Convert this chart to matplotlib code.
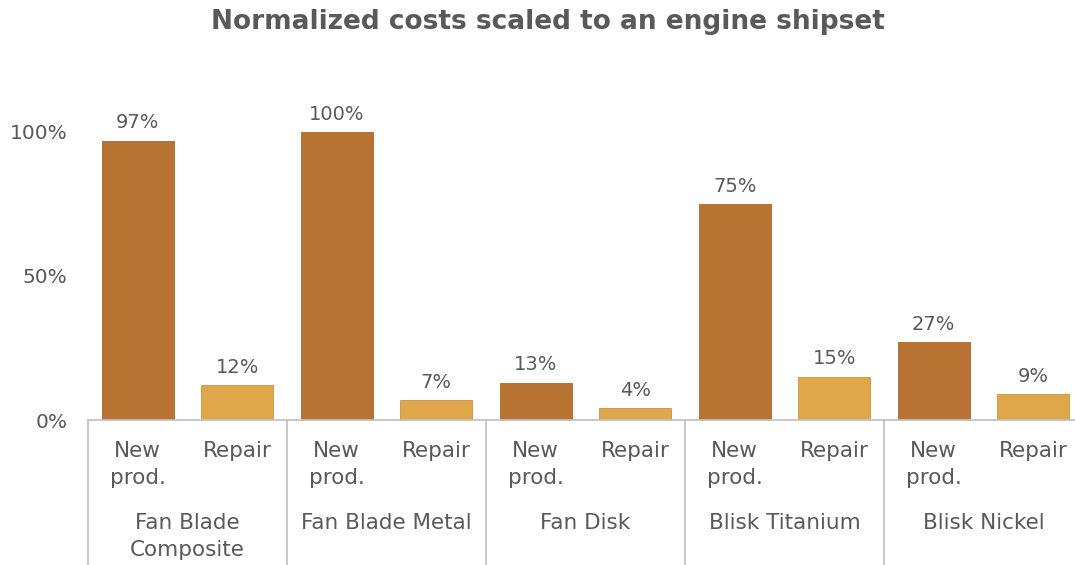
import numpy as np
import matplotlib.pyplot as plt
from matplotlib.transforms import blended_transform_factory

categories = ['Fan Blade\nComposite', 'Fan Blade Metal', 'Fan Disk', 'Blisk Titanium', 'Blisk Nickel']
sub_labels = ['New\nprod.', 'Repair']
new_prod = [0.97, 1.00, 0.13, 0.75, 0.27]
repair = [0.12, 0.07, 0.04, 0.15, 0.09]
y_ticks = [0, 0.5, 1.0]

dark = '#B87333'
light = '#E0A64A'
grey = '#595959'
line_grey = '#BFBFBF'

plt.rcParams['font.family'] = ['DejaVu Sans']

W, H = 1075, 565
fig = plt.figure(figsize=(W / 100, H / 100), dpi=100)
# axes spans 10 slots of ~99.5 px, starting at x=88, baseline at y=420
left, right, bottom, top = 88, 88 + 10 * 99.5, 420, 97.4
ax = fig.add_axes([left / W, 1 - bottom / H, (right - left) / W, (bottom - top) / H])

n = len(categories)
x_new = np.arange(n) * 2
x_rep = x_new + 1
bars_new = ax.bar(x_new, new_prod, width=0.72, color=dark, edgecolor='#A8662C', linewidth=0.6)
bars_rep = ax.bar(x_rep, repair, width=0.72, color=light, edgecolor='#C99440', linewidth=0.6)

for bars, vals in ((bars_new, new_prod), (bars_rep, repair)):
    for b, v in zip(bars, vals):
        ax.annotate(f'{v:.0%}', (b.get_x() + b.get_width() / 2, v),
                    xytext=(0, 6), textcoords='offset points',
                    ha='center', va='bottom', fontsize=14, color=grey)

ax.set_xlim(-0.5, 2 * n - 0.5)
ax.set_ylim(0, 1.12)
ax.set_yticks(y_ticks)
ax.set_yticklabels([f'{t:.0%}' for t in y_ticks], fontsize=14.5, color=grey)
ax.tick_params(axis='y', length=0, pad=15)
ax.set_xticks([])
for s in ['top', 'right', 'left']:
    ax.spines[s].set_visible(False)
ax.spines['bottom'].set_color(line_grey)
ax.spines['bottom'].set_linewidth(1.2)

# two-level category axis below the plot
tr = blended_transform_factory(ax.transData, fig.transFigure)
for i in range(n + 1):
    ax.plot([2 * i - 0.5, 2 * i - 0.5], [1 - bottom / H, 0], transform=tr,
            color=line_grey, lw=1.2, clip_on=False)
for i, cat in enumerate(categories):
    for j, lab in enumerate(sub_labels):
        ax.text(2 * i + j, 1 - 441 / H, lab, transform=tr, ha='center', va='top',
                fontsize=15.5, color=grey, linespacing=1.45)
    ax.text(2 * i + 0.5, 1 - 513 / H, cat, transform=tr, ha='center', va='top',
            fontsize=15.5, color=grey, linespacing=1.45)

fig.text(0.51, 1 - 22 / H, 'Normalized costs scaled to an engine shipset',
         ha='center', va='center', fontsize=19, fontweight='bold', color=grey)

fig.savefig('out.png', dpi=100)
